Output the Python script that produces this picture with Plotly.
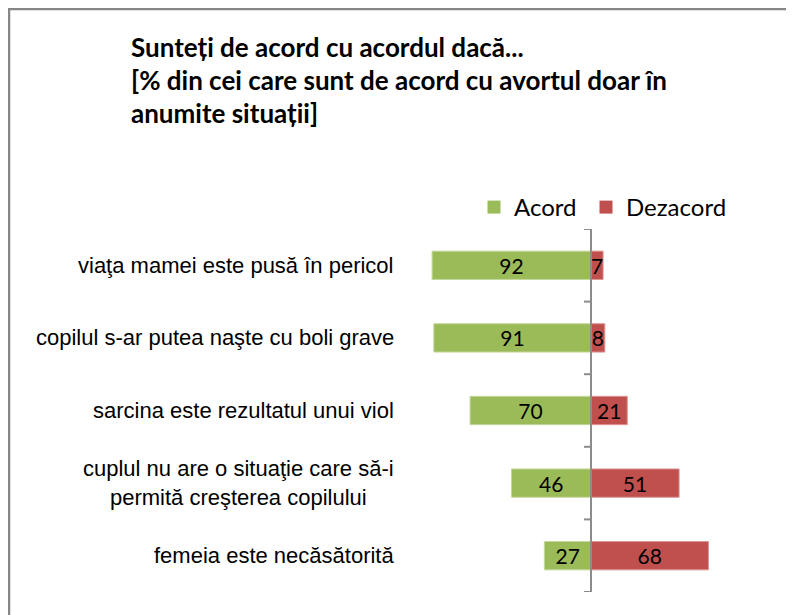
import plotly.graph_objects as go

categories = [
    "viaţa mamei este pusă în pericol",
    "copilul s-ar putea naşte cu boli grave",
    "sarcina este rezultatul unui viol",
    "cuplul nu are o situaţie care să-i<br>permită creşterea copilului",
    "femeia este necăsătorită",
]
acord = [92, 91, 70, 46, 27]
dezacord = [7, 8, 21, 51, 68]
title_lines = [
    "Sunteți de acord cu acordul dacă...",
    "[% din cei care sunt de acord cu avortul doar în",
    "anumite situații]",
]

W, H = 794, 615
OFF = 8  # page body margin
ML, MR, MT, MB = 393, 21, 221, 31
PW, PH = W - ML - MR, H - MT - MB

def px(x):
    return (x - OFF - ML) / PW

def py(y):
    return (H - MB - (y - OFF)) / PH

GREEN = "#9BBB59"
RED = "#C0504D"
idx = list(range(len(categories)))

fig = go.Figure()
fig.add_trace(go.Bar(
    y=idx, x=[-v for v in acord], orientation="h", name="Acord", showlegend=False,
    marker=dict(color=GREEN, line=dict(color="#C4D79B", width=1)),
    text=[str(v) for v in acord], textposition="inside", insidetextanchor="middle",
    constraintext="none", textangle=0,
    textfont=dict(family="Lato", size=21, color="black"),
))
fig.add_trace(go.Bar(
    y=idx, x=dezacord, orientation="h", name="Dezacord", showlegend=False,
    marker=dict(color=RED, line=dict(color="#DA9694", width=1)),
    text=[str(v) for v in dezacord], textposition="inside", insidetextanchor="middle",
    constraintext="none", textangle=0,
    textfont=dict(family="Lato", size=21, color="black"),
))
for name, col, lg in (("Acord", GREEN, "legend"), ("Dezacord", RED, "legend2")):
    fig.add_trace(go.Scatter(
        x=[None], y=[None], mode="markers", name=name, legend=lg,
        marker=dict(symbol="square", size=13, color=col),
    ))

shapes = []
shapes.append(dict(type="rect", xref="paper", yref="paper",
                   x0=px(9), x1=px(792), y0=py(640), y1=py(9),
                   line=dict(color="#868686", width=2.5), layer="below"))
shapes.append(dict(type="line", xref="x", yref="y", x0=0, x1=0, y0=-0.5, y1=len(categories) - 0.5,
                   line=dict(color="#8C8C8C", width=2)))
for b in range(len(categories) + 1):
    shapes.append(dict(type="line", xref="x", yref="y", xsizemode="pixel", xanchor=0,
                       x0=-7, x1=0, y0=b - 0.5, y1=b - 0.5,
                       line=dict(color="#8C8C8C", width=2)))

annotations = []
for i, c in enumerate(categories):
    annotations.append(dict(xref="paper", yref="y", x=px(396), y=i, text=c,
                            xanchor="right", yanchor="middle", align="center",
                            showarrow=False,
                            font=dict(family="Liberation Sans", size=22, color="black")))
title_y = [47, 80, 113]
for t, yy in zip(title_lines, title_y):
    annotations.append(dict(xref="paper", yref="paper", x=px(129), y=py(yy), text="<b>" + t + "</b>",
                            xanchor="left", yanchor="middle", showarrow=False,
                            font=dict(family="Lato", size=26, color="black")))

legend_common = dict(orientation="h", xref="paper", yref="paper", y=py(185),
                     xanchor="left", yanchor="top", bgcolor="rgba(0,0,0,0)",
                     font=dict(family="Lato", size=24, color="black"), itemwidth=30)

fig.update_layout(
    width=W, height=H,
    margin=dict(l=ML, r=MR, t=MT, b=MB, pad=0),
    paper_bgcolor="white", plot_bgcolor="white",
    barmode="relative", bargap=0.61,
    xaxis=dict(range=[-110, 110], visible=False, fixedrange=True),
    yaxis=dict(range=[len(categories) - 0.5, -0.5], visible=False, fixedrange=True),
    showlegend=True,
    legend=dict(x=px(474), **legend_common),
    legend2=dict(x=px(586), **legend_common),
    shapes=shapes, annotations=annotations,
)

fig.write_html("out.html")
